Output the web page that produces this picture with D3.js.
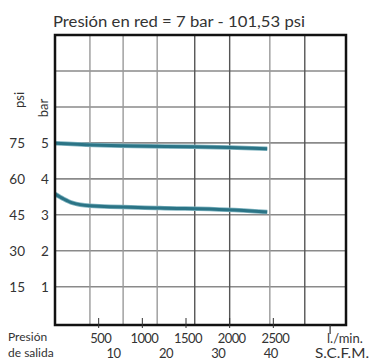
<!DOCTYPE html>
<html><head><meta charset="utf-8">
<script src="https://cdn.jsdelivr.net/npm/d3@7"></script>
<style>html,body{margin:0;padding:0;background:#fff;}svg{display:block;}</style>
</head><body><svg id="c" width="373" height="363"></svg>
<script>
const title = "Presión en red = 7 bar - 101,53 psi";
const barTicks = [1, 2, 3, 4, 5];
const psiTicks = [15, 30, 45, 60, 75];
const gridBar = [1, 2, 3, 4, 5, 6, 7];
const gridFlow = [400, 780, 1170, 1600, 2000, 2460, 2860];
const darkGridFlow = [1600, 2000, 2860];
const flowTicks = [500, 1000, 1500, 2000, 2500];
const scfmTicks = [10, 20, 30, 40];
const upperFlow = [0, 440, 900, 1580, 2000, 2430];
const upperBar = [4.99, 4.94, 4.91, 4.89, 4.87, 4.84];
const lowerFlow = [0, 100, 200, 400, 1200, 1970, 2430];
const lowerBar = [3.58, 3.44, 3.33, 3.25, 3.19, 3.14, 3.08];

(function () {
const svg = d3.select("#c");
const pL = 55, pR = 346, pT = 35, pB = 325;
const x = d3.scaleLinear().domain([0, 3000]).range([55, 317]);
const y = d3.scaleLinear().domain([0, 8]).range([322.7, pT]);
const psiY = y.copy().domain(y.domain().map(d => d * 15));
const scfmX = v => x(v * 60 + 70);
const font = "Lato, 'Open Sans', sans-serif";
const txt = "#333";

svg.append("g").selectAll("line").data(gridBar).join("line")
  .attr("x1", pL).attr("x2", pR)
  .attr("y1", d => y(d)).attr("y2", d => y(d))
  .attr("stroke", "#8a8a8a").attr("stroke-width", 1.6);
svg.append("g").selectAll("line").data(gridFlow).join("line")
  .attr("x1", d => x(d)).attr("x2", d => x(d))
  .attr("y1", pT).attr("y2", pB)
  .attr("stroke", d => darkGridFlow.includes(d) ? "#555" : "#9a9a9a")
  .attr("stroke-width", 1.4);

const line = d3.line().x(d => x(d[0])).y(d => y(d[1])).curve(d3.curveMonotoneX);
[[upperFlow, upperBar], [lowerFlow, lowerBar]].forEach(([f, b]) => {
  const pts = f.map((v, i) => [v, b[i]]);
  svg.append("path").attr("d", line(pts)).attr("fill", "none")
    .attr("stroke", "#7fb3bf").attr("stroke-width", 4.5);
  svg.append("path").attr("d", line(pts)).attr("fill", "none")
    .attr("stroke", "#2b7486").attr("stroke-width", 3);
});

svg.append("rect").attr("x", pL).attr("y", pT).attr("width", pR - pL).attr("height", pB - pT)
  .attr("fill", "none").attr("stroke", "#111").attr("stroke-width", 2.5);

svg.append("g").selectAll("line").data(flowTicks).join("line")
  .attr("x1", d => x(d)).attr("x2", d => x(d)).attr("y1", pB - 7).attr("y2", pB + 3)
  .attr("stroke", "#333").attr("stroke-width", 1);
svg.append("line").attr("x1", x(3150)).attr("x2", x(3150)).attr("y1", pB).attr("y2", pB + 9)
  .attr("stroke", "#333").attr("stroke-width", 1.2);

svg.append("text").attr("x", 53).attr("y", 27).text(title)
  .attr("font-family", font).attr("font-size", 14.5).attr("fill", txt)
  .attr("textLength", 252).attr("lengthAdjust", "spacingAndGlyphs");

svg.append("g").selectAll("text").data(psiTicks).join("text")
  .attr("x", 25).attr("y", d => psiY(d)).attr("dy", "0.36em").attr("text-anchor", "end")
  .text(d => d).attr("font-family", font).attr("font-size", 13.5).attr("fill", txt);
svg.append("g").selectAll("text").data(barTicks).join("text")
  .attr("x", 45).attr("y", d => y(d)).attr("dy", "0.36em").attr("text-anchor", "middle")
  .text(d => d).attr("font-family", font).attr("font-size", 13.5).attr("fill", txt);
svg.append("text").attr("transform", "translate(24,100) rotate(-90)").attr("text-anchor", "middle")
  .text("psi").attr("font-family", font).attr("font-size", 13).attr("fill", txt);
svg.append("text").attr("transform", "translate(48,108) rotate(-90)").attr("text-anchor", "middle")
  .text("bar").attr("font-family", font).attr("font-size", 13).attr("fill", txt);

svg.append("g").selectAll("text").data(flowTicks).join("text")
  .attr("x", d => x(d) + 2).attr("y", 343).attr("text-anchor", "middle")
  .text(d => d).attr("font-family", font).attr("font-size", 13).attr("fill", txt)
  .attr("letter-spacing", -0.6);
svg.append("g").selectAll("text").data(scfmTicks).join("text")
  .attr("x", d => scfmX(d)).attr("y", 358).attr("text-anchor", "middle")
  .text(d => d).attr("font-family", font).attr("font-size", 13).attr("fill", txt)
  .attr("letter-spacing", -0.6);
svg.append("text").attr("x", 327).attr("y", 343).text("l./min.")
  .attr("font-family", font).attr("font-size", 13).attr("fill", txt);
svg.append("text").attr("x", 315).attr("y", 358).text("S.C.F.M.")
  .attr("font-family", font).attr("font-size", 13).attr("fill", txt)
  .attr("textLength", 54).attr("lengthAdjust", "spacingAndGlyphs");
svg.append("text").attr("x", 8).attr("y", 341).text("Presión")
  .attr("font-family", font).attr("font-size", 12).attr("fill", txt);
svg.append("text").attr("x", 8).attr("y", 357).text("de salida")
  .attr("font-family", font).attr("font-size", 12).attr("fill", txt);
})();
</script></body></html>
